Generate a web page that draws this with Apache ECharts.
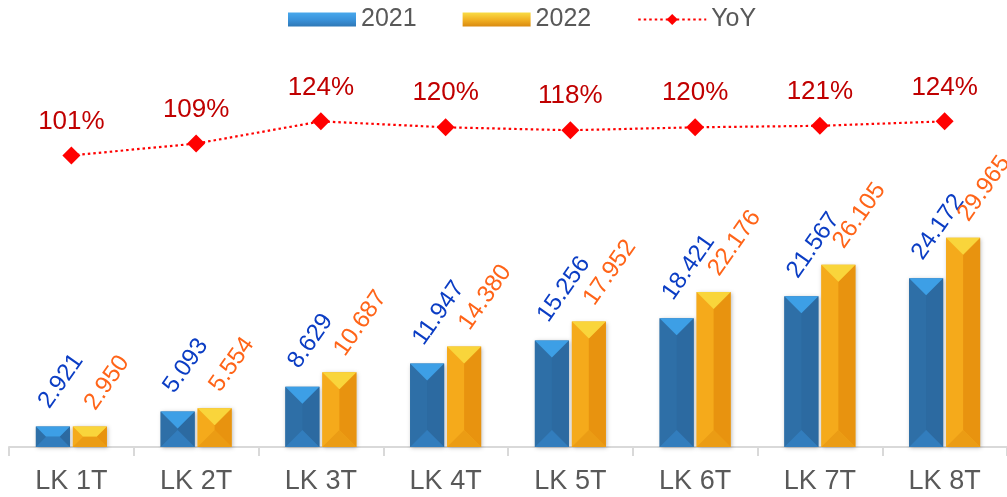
<!DOCTYPE html>
<html>
<head>
<meta charset="utf-8">
<script src="https://cdn.jsdelivr.net/npm/echarts@6/dist/echarts.min.js"></script>
<style>
html,body{margin:0;padding:0;background:#fff;}
#chart{width:1007px;height:497px;}
</style>
</head>
<body>
<div id="chart"></div>
<script>
const categories = ['LK 1T','LK 2T','LK 3T','LK 4T','LK 5T','LK 6T','LK 7T','LK 8T'];
const values2021 = [2.921, 5.093, 8.629, 11.947, 15.256, 18.421, 21.567, 24.172];
const values2022 = [2.950, 5.554, 10.687, 14.380, 17.952, 22.176, 26.105, 29.965];
const yoyValues = [101, 109, 124, 120, 118, 120, 121, 124];

const FONT = '"Liberation Sans", Arial, sans-serif';
const BAR_W = 34;
const LABEL_ROT = 55 * Math.PI / 180;

function makeRender(side, faces, labelColor, labelOffset) {
  return function (params, api) {
    const idx = api.value(0);
    const v = api.value(1);
    const base = api.coord([idx, 0]);
    const topPt = api.coord([idx, v]);
    const cx = base[0] + side * (BAR_W / 2 + 1.5);
    const l = cx - BAR_W / 2, r = cx + BAR_W / 2;
    const t = topPt[1], b = base[1];
    const h = b - t;
    const d = Math.min(BAR_W / 2, h / 2);
    const poly = (pts, fill) => ({ type: 'polygon', shape: { points: pts }, style: { fill: fill } });
    return {
      type: 'group',
      children: [
        { type: 'rect', shape: { x: l, y: t, width: BAR_W, height: h },
          style: { fill: faces.left, shadowBlur: 4, shadowColor: 'rgba(0,0,0,0.25)', shadowOffsetX: 1, shadowOffsetY: 1 } },
        poly([[l, t], [l + d, t + d], [l + d, b - d], [l, b]], faces.left),
        poly([[r, t], [r - d, t + d], [r - d, b - d], [r, b]], faces.right),
        poly([[l, t], [r, t], [r - d, t + d], [l + d, t + d]], faces.top),
        poly([[l, b], [r, b], [r - d, b - d], [l + d, b - d]], faces.bottom),
        { type: 'text', x: cx + labelOffset[0], y: t + labelOffset[1], rotation: LABEL_ROT,
          style: { text: v.toFixed(3), fill: labelColor, font: '24px ' + FONT, textAlign: 'left', textVerticalAlign: 'middle' } }
      ]
    };
  };
}

const blueFaces = { top: '#3d9fe6', left: '#2e6fa7', right: '#2c6aa1', bottom: '#327dbd' };
const yellowFaces = { top: '#f9d53b', left: '#f5aa1b', right: '#e8930f', bottom: '#eb9c14' };

const chart = echarts.init(document.getElementById('chart'));
chart.setOption({
  animation: false,
  backgroundColor: '#fff',
  textStyle: { fontFamily: FONT },
  legend: {
    left: 283, top: 2,
    itemWidth: 68, itemHeight: 14, itemGap: 46,
    textStyle: { fontSize: 25, color: '#595959', fontFamily: FONT },
    data: [
      { name: '2021', icon: 'rect', itemStyle: { color: new echarts.graphic.LinearGradient(0, 0, 0, 1, [
        { offset: 0, color: '#48a8ec' }, { offset: 0.5, color: '#3a93db' }, { offset: 1, color: '#2f78b6' }]) } },
      { name: '2022', icon: 'rect', itemStyle: { color: new echarts.graphic.LinearGradient(0, 0, 0, 1, [
        { offset: 0, color: '#f9dc45' }, { offset: 0.5, color: '#f2b324' }, { offset: 1, color: '#d98a10' }]) } },
      { name: 'YoY' }
    ]
  },
  grid: { left: 9, right: -5, top: 0, bottom: 50, containLabel: false },
  xAxis: {
    type: 'category',
    data: categories,
    boundaryGap: true,
    axisLine: { lineStyle: { color: '#d9d9d9', width: 2 } },
    axisTick: { show: true, length: 9, lineStyle: { color: '#d9d9d9', width: 2 } },
    axisLabel: { color: '#595959', fontSize: 27, margin: 21, fontFamily: FONT }
  },
  yAxis: [
    { type: 'value', min: 0, max: 64, show: false, splitLine: { show: false } },
    { type: 'value', min: -96, max: 206, show: false, splitLine: { show: false } }
  ],
  series: [
    { name: '2021', type: 'custom', itemStyle: { color: '#3a93db' },
      encode: { x: 0, y: 1 },
      data: values2021.map((v, i) => [i, v]),
      renderItem: makeRender(-1, blueFaces, '#0b3dc4', [-9, -21]) },
    { name: '2022', type: 'custom', itemStyle: { color: '#f2b324' },
      encode: { x: 0, y: 1 },
      data: values2022.map((v, i) => [i, v]),
      renderItem: makeRender(1, yellowFaces, '#ff6418', [0, -19]) },
    { name: 'YoY', type: 'line', yAxisIndex: 1,
      data: yoyValues,
      symbol: 'diamond', symbolSize: 18,
      itemStyle: { color: '#ff0000' },
      lineStyle: { color: '#ff0000', width: 2.2, type: [2.5, 3] },
      label: { show: true, position: 'top', distance: 12, color: '#c00000', fontSize: 26, fontFamily: FONT,
        formatter: p => p.value + '%' },
      z: 5 }
  ]
});
</script>
</body>
</html>
